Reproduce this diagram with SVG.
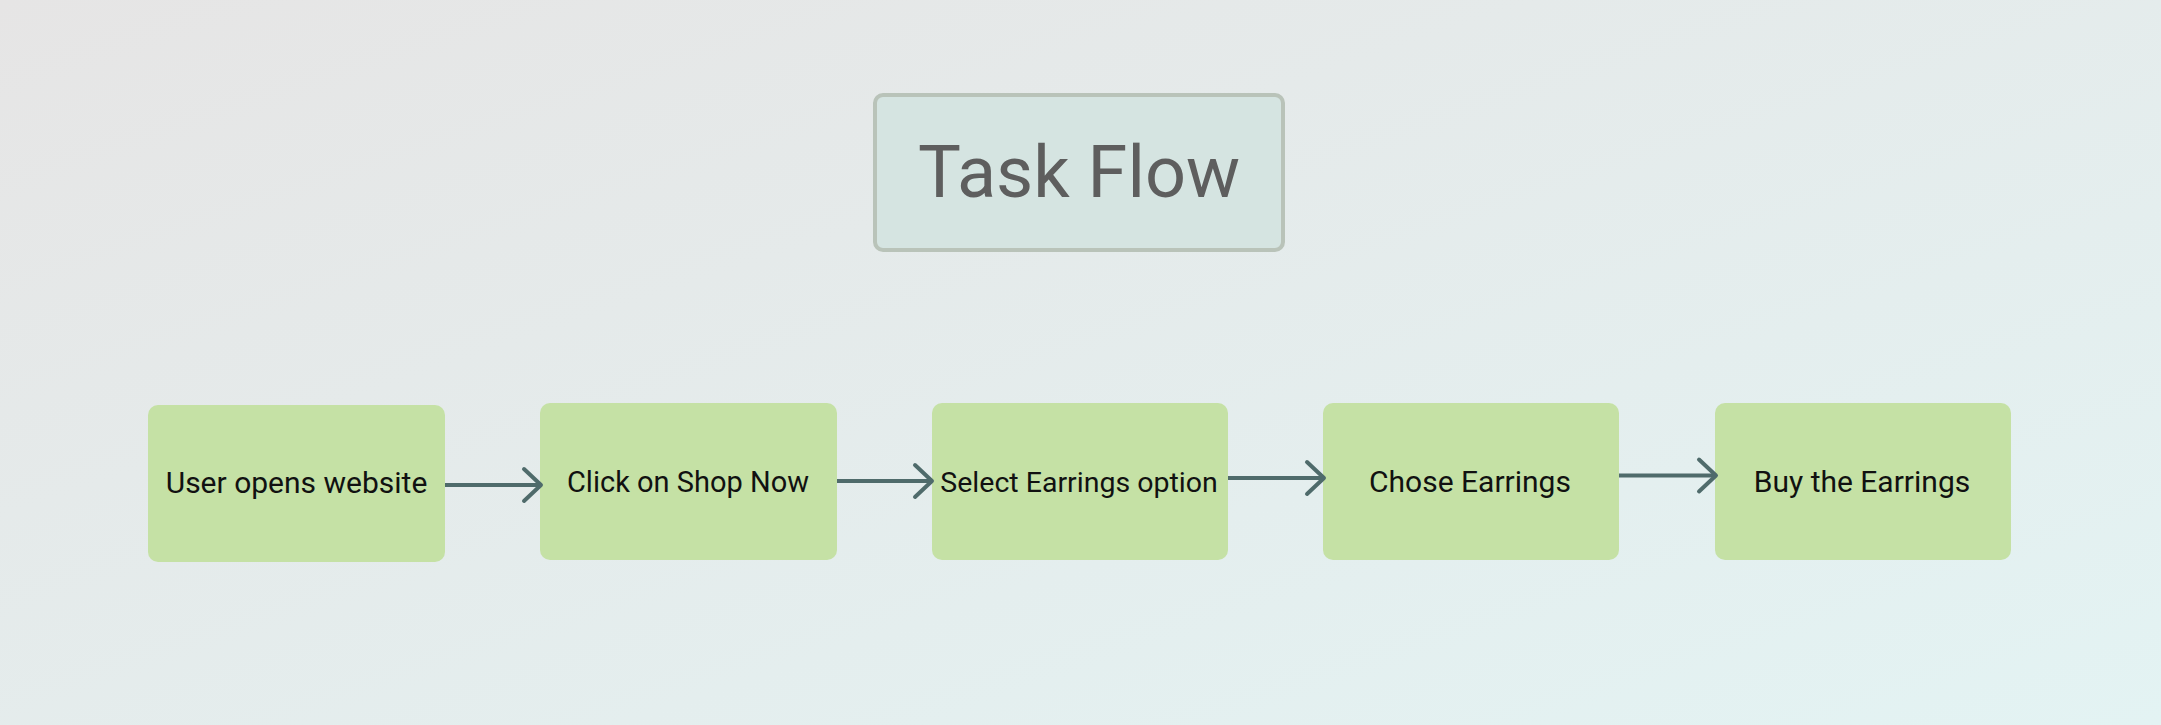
<svg xmlns="http://www.w3.org/2000/svg" width="2161" height="725" viewBox="0 0 2161 725">
<defs>
<linearGradient id="bg" x1="0" y1="0" x2="1" y2="1">
<stop offset="0" stop-color="#e6e5e5"/>
<stop offset="1" stop-color="#e3f3f3"/>
</linearGradient>
<marker id="chev" viewBox="-20 -20 24 40" refX="0" refY="0" markerWidth="24" markerHeight="40" markerUnits="userSpaceOnUse" orient="auto">
<path d="M-17,-16 L0,0 L-17,16" fill="none" stroke="#4f6b6b" stroke-width="4" stroke-linecap="round" stroke-linejoin="round"/>
</marker>
</defs>
<style>
.node rect{fill:#c5e1a5;}
.node text{font-family:Roboto,"Liberation Sans",sans-serif;font-size:30px;fill:#111;text-anchor:middle;}
.conn line{stroke:#4f6b6b;stroke-width:4;marker-end:url(#chev);}
</style>
<rect x="0" y="0" width="2161" height="725" fill="url(#bg)"/>
<g id="title">
<rect x="875" y="95" width="408" height="155" rx="8" fill="#d5e4e1" stroke="#b9c3b9" stroke-width="4"/>
<text x="1079" y="197" font-family="Roboto,'Liberation Sans',sans-serif" font-size="72" fill="#5e5e5e" text-anchor="middle">Task Flow</text>
</g>
<g id="n1" class="node"><rect x="148" y="405" width="297" height="157" rx="10"/><text x="296.5" y="493">User opens website</text></g>
<g id="n2" class="node"><rect x="540" y="403" width="297" height="157" rx="10"/><text x="688" y="492" style="font-size:29px">Click on Shop Now</text></g>
<g id="n3" class="node"><rect x="932" y="403" width="296" height="157" rx="10"/><text x="1079" y="492" style="font-size:28.5px">Select Earrings option</text></g>
<g id="n4" class="node"><rect x="1323" y="403" width="296" height="157" rx="10"/><text x="1470" y="492">Chose Earrings</text></g>
<g id="n5" class="node"><rect x="1715" y="403" width="296" height="157" rx="10"/><text x="1862" y="492">Buy the Earrings</text></g>
<g id="connectors" class="conn">
<line x1="445" y1="485" x2="541" y2="485"/>
<line x1="837" y1="481" x2="932" y2="481"/>
<line x1="1228" y1="478" x2="1324" y2="478"/>
<line x1="1619" y1="475.5" x2="1716" y2="475.5"/>
</g>
</svg>
